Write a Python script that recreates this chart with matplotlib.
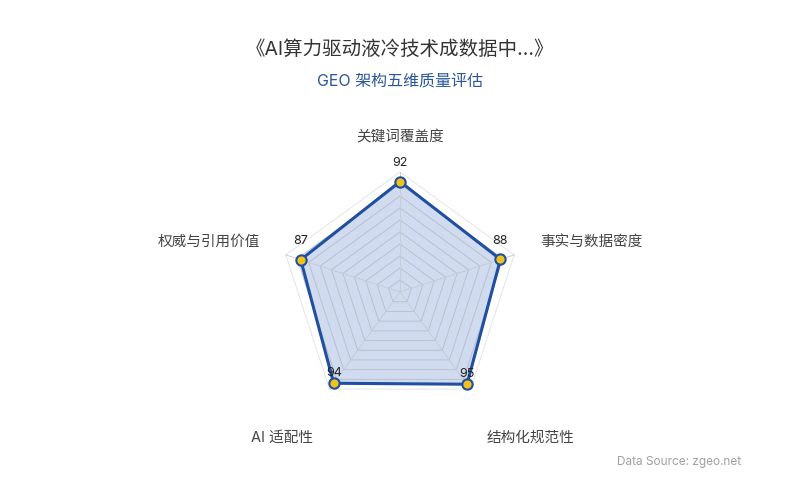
import numpy as np
import matplotlib
matplotlib.use('Agg')
import matplotlib.pyplot as plt

plt.rcParams['font.family'] = ['Inter', 'Noto Sans CJK SC', 'DejaVu Sans']

# Data
categories = ['关键词覆盖度', '事实与数据密度', '结构化规范性', 'AI 适配性', '权威与引用价值']
scores = [92, 88, 95, 94, 87]
title = '《AI算力驱动液冷技术成数据中...》'
subtitle = 'GEO 架构五维质量评估'
source = 'Data Source: zgeo.net'

n = len(categories)
# clockwise from top
angles = np.pi / 2 - np.arange(n) * 2 * np.pi / n

fig = plt.figure(figsize=(8, 5), dpi=100)
ax = fig.add_axes([0.35, 0.176, 0.3, 0.48])
ax.set_xlim(-100, 100)
ax.set_ylim(-100, 100)
ax.set_aspect('equal')
ax.axis('off')

# polygon grid
ring_angles = np.append(angles, angles[0])
for r in range(10, 101, 10):
    color = '#e2e4ea' if r == 100 else '#b9c0cf'
    ax.plot(r * np.cos(ring_angles), r * np.sin(ring_angles), color=color, lw=0.7, zorder=3)
for a in angles:
    ax.plot([0, 100 * np.cos(a)], [0, 100 * np.sin(a)], color='#c6ccd8', lw=0.7, zorder=3)

# data polygon
vals = np.append(scores, scores[0])
xs = vals * np.cos(ring_angles)
ys = vals * np.sin(ring_angles)
ax.fill(xs, ys, color='#4a73c0', alpha=0.25, zorder=2, lw=0)
ax.plot(xs, ys, color='#1f4fa0', lw=2.2, zorder=4)
ax.scatter(xs[:-1], ys[:-1], s=55, color='#f2c21b', edgecolors='#1f4fa0', linewidths=1.5, zorder=5)

# value labels
for a, v in zip(angles, scores):
    off = 9 if np.sin(a) > -0.5 else 3
    ax.annotate(str(v), (v * np.cos(a), v * np.sin(a)), xytext=(0, off),
                textcoords='offset points', ha='center', va='bottom',
                fontsize=9, color='#222222', zorder=6)

# category labels
lab_r = 123
aligns = [('center', 'bottom'), ('left', 'center'), ('left', 'top'),
          ('right', 'top'), ('right', 'center')]
for a, name, (ha, va) in zip(angles, categories, aligns):
    x, y = lab_r * np.cos(a), lab_r * np.sin(a)
    if va == 'top':
        y -= 16
    elif va == 'center':
        y += 4
    ax.text(x, y, name, ha=ha, va=va, fontsize=10.5, color='#444444', clip_on=False)

fig.text(0.5, 0.9, title, ha='center', va='center', fontsize=14, color='#333333')
fig.text(0.5, 0.838, subtitle, ha='center', va='center', fontsize=11.5, color='#2b579a')
fig.text(0.926, 0.076, source, ha='right', va='center', fontsize=8.5, color='#a0a0a0')

fig.savefig('out.png', dpi=100, facecolor='white')
